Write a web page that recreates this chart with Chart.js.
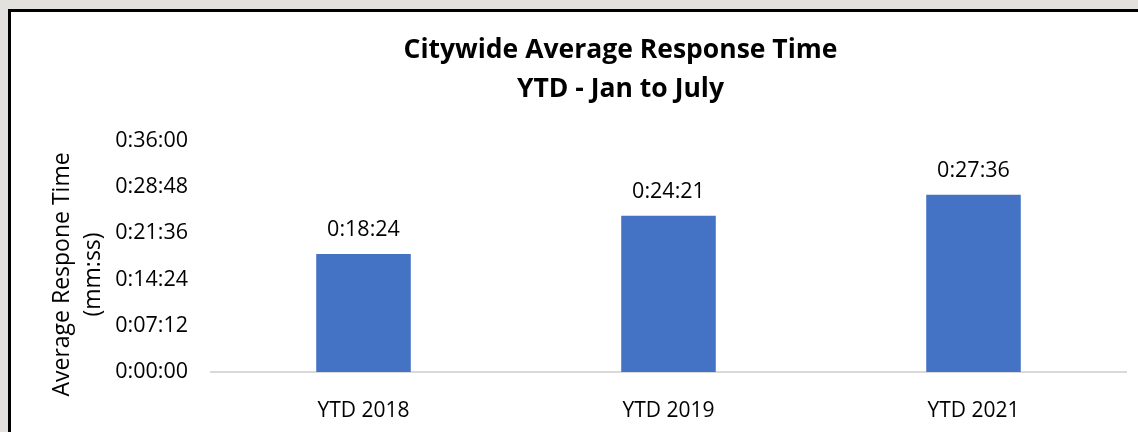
<!DOCTYPE html>
<html>
<head>
<meta charset="utf-8">
<script src="https://cdn.jsdelivr.net/npm/chart.js@4"></script>
<style>
  html, body { margin: 0; padding: 0; overflow: hidden; background: #e3e1de; width: 1138px; height: 432px; }
  #box { position: absolute; left: 8px; top: 9px; width: 1210px; height: 420px;
         border-left: 3px solid #000; border-top: 3px solid #000; background: #fff; }
</style>
</head>
<body>
<div id="box"><canvas id="plots"></canvas></div>
<script>
// categories and values (seconds)
var years = ["YTD 2018", "YTD 2019", "YTD 2021"];
var responseSecs = [1104, 1461, 1656]; // 0:18:24, 0:24:21, 0:27:36
var yMax = 2160;  // 0:36:00
var yStep = 432;  // 0:07:12
var titleLines = ["Citywide Average Response Time", "YTD - Jan to July"];
var yTitleLines = ["Average Respone Time", "(mm:ss)"];

var FONT = "'Open Sans', sans-serif";

// seconds -> h:mm:ss
function fmt(s) {
    var h = Math.floor(s / 3600);
    var m = Math.floor((s % 3600) / 60);
    var sec = Math.round(s % 60);
    return h + ":" + String(m).padStart(2, "0") + ":" + String(sec).padStart(2, "0");
}

// value labels above bars + rotated y title
var extras = {
    id: "extras",
    afterDatasetsDraw: function (chart) {
        var ctx = chart.ctx;
        ctx.save();
        ctx.fillStyle = "#000";
        ctx.font = "21.5px " + FONT;
        ctx.textAlign = "center";
        ctx.textBaseline = "alphabetic";
        chart.getDatasetMeta(0).data.forEach(function (bar, i) {
            ctx.fillText(fmt(responseSecs[i]), bar.x, bar.y - 18);
        });
        // y axis title, two lines
        var area = chart.chartArea;
        var cy = (area.top + area.bottom) / 2 + 18;
        ctx.translate(0, cy);
        ctx.rotate(-Math.PI / 2);
        ctx.font = "23px " + FONT;
        ctx.textBaseline = "middle";
        ctx.fillText(yTitleLines[0], 0, 51);
        ctx.fillText(yTitleLines[1], 0, 82);
        ctx.restore();
    }
};

plots = document.getElementById("plots");
new Chart(plots, {
    type: "bar",
    data: {
        labels: years,
        datasets: [{
            data: responseSecs,
            backgroundColor: "#4472C4",
            barPercentage: 1,
            categoryPercentage: 0.31
        }]
    },
    options: {
        responsive: true,
        maintainAspectRatio: false,
        animation: false,
        layout: { padding: { left: 104, right: 95, top: 0, bottom: 0 } },
        plugins: {
            legend: { display: false },
            tooltip: { enabled: false },
            title: {
                display: true,
                text: titleLines,
                color: "#000",
                font: { family: FONT, size: 26.5, weight: "bold", lineHeight: 1.47 },
                padding: { top: 19, bottom: 32 }
            }
        },
        scales: {
            x: {
                grid: { display: false },
                border: { color: "#d9d9d9", width: 2 },
                ticks: { color: "#000", font: { family: FONT, size: 21 }, padding: 18 },
                afterFit: function (s) { s.height = 60; }
            },
            y: {
                min: 0,
                max: yMax,
                grid: { display: false, drawTicks: false },
                border: { display: false },
                ticks: {
                    stepSize: yStep,
                    color: "#000",
                    font: { family: FONT, size: 21.5 },
                    padding: 23,
                    callback: function (v) { return fmt(v); }
                },
                afterFit: function (s) { s.width = 96; }
            }
        }
    },
    plugins: [extras]
});
</script>
</body>
</html>
